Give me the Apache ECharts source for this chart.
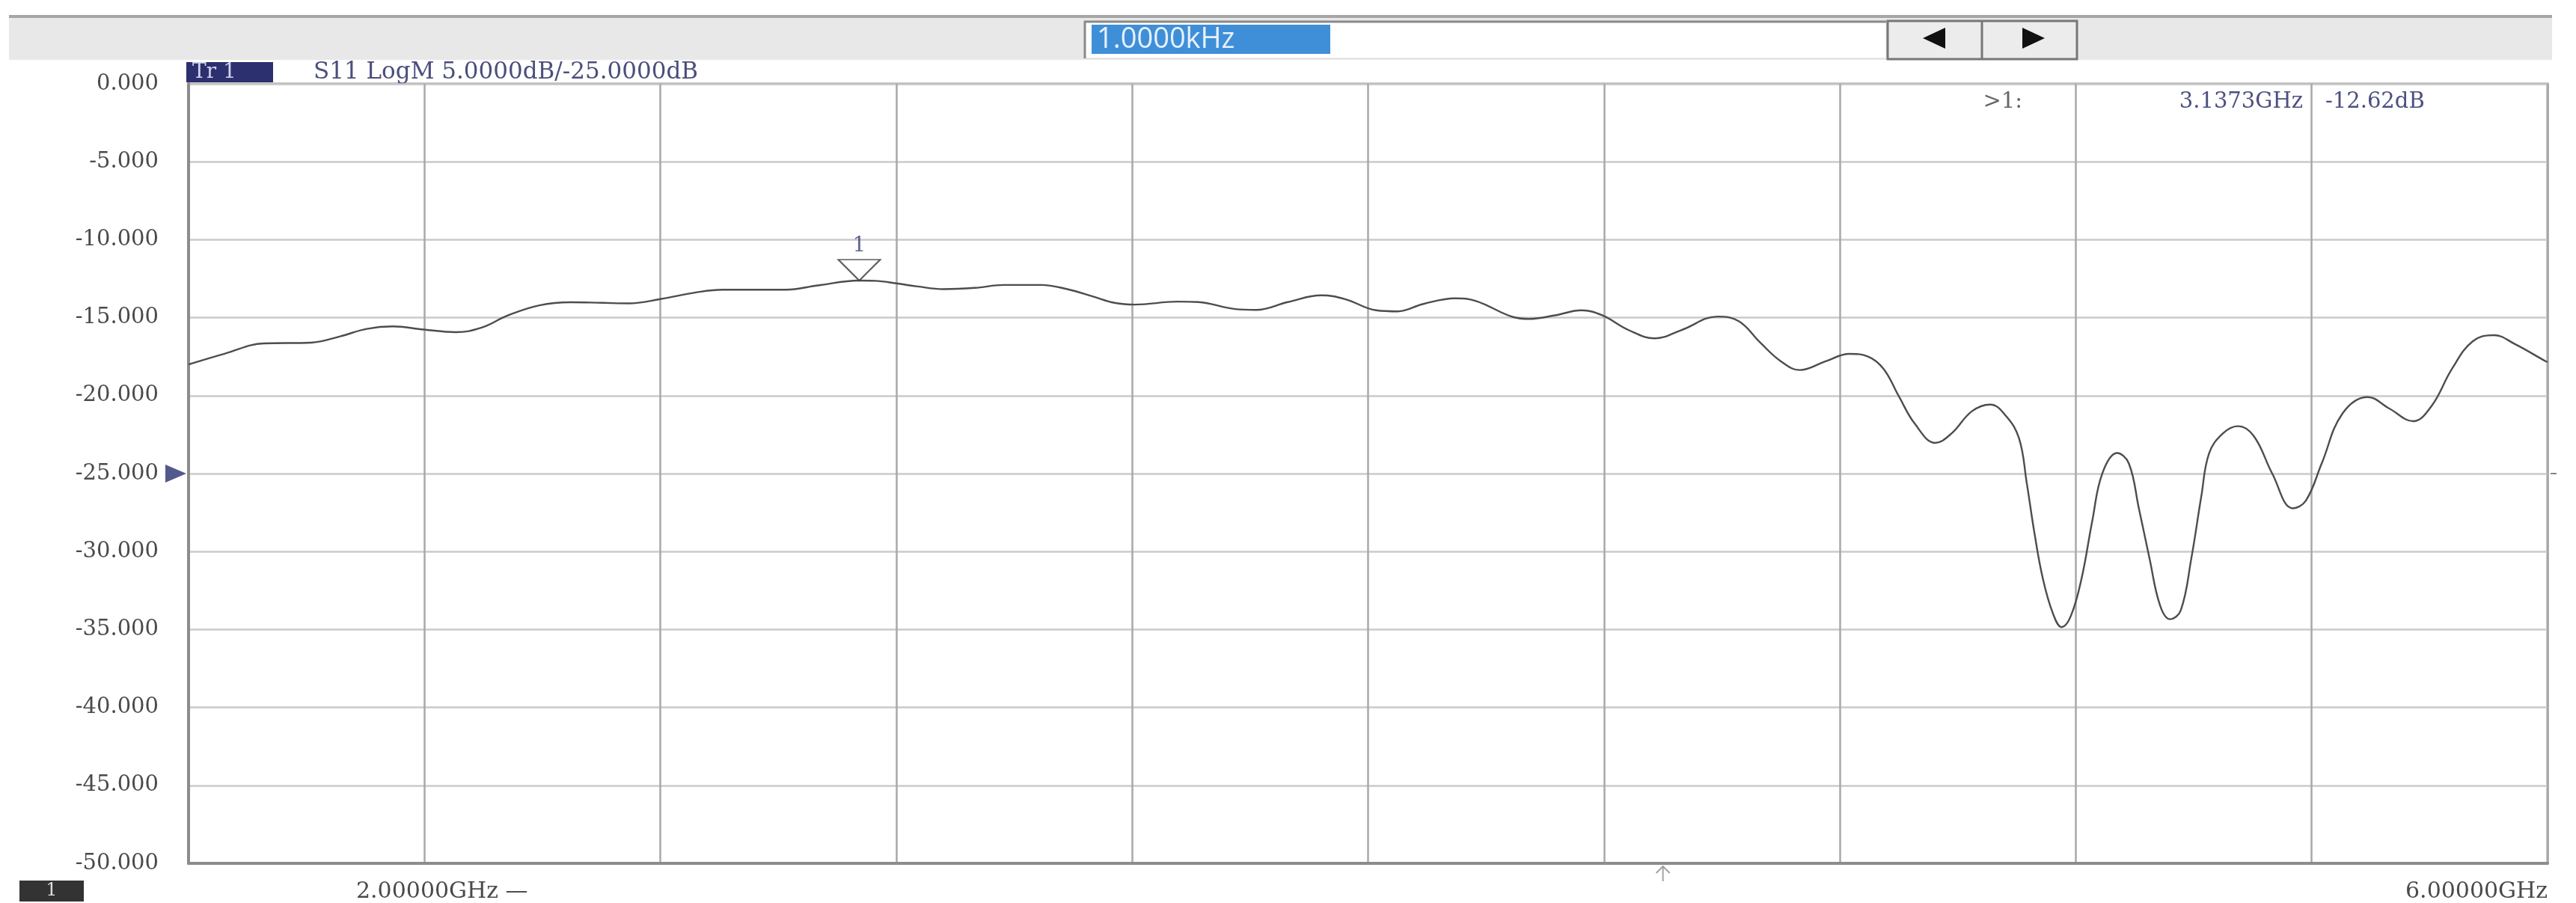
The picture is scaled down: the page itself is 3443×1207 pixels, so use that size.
<!DOCTYPE html>
<html>
<head>
<meta charset="utf-8">
<script src="https://cdn.jsdelivr.net/npm/echarts@6/dist/echarts.min.js"></script>
<style>
html,body{margin:0;padding:0;background:#fff;}
#chart{width:3443px;height:1207px;}
</style>
</head>
<body>
<div id="chart"></div>
<script>
// ---- data ----
const freqGHz = [2.000,2.062,2.128,2.208,2.257,2.302,2.346,2.399,2.453,2.497,2.542,2.595,2.648,2.702,2.746,2.800,2.862,2.906,3.013,3.067,3.137,3.164,3.200,3.236,3.280,3.333,3.383,3.445,3.490,3.534,3.570,3.605,3.677,3.712,3.775,3.810,3.864,3.921,3.961,4.014,4.050,4.094,4.148,4.183,4.246,4.273,4.317,4.362,4.397,4.442,4.486,4.531,4.593,4.629,4.665,4.700,4.732,4.776,4.816,4.847,4.874,4.900,4.927,4.962,4.989,5.024,5.055,5.082,5.104,5.117,5.130,5.144,5.161,5.176,5.192,5.210,5.228,5.245,5.270,5.290,5.307,5.325,5.343,5.360,5.378,5.396,5.413,5.426,5.449,5.475,5.502,5.533,5.568,5.590,5.617,5.652,5.695,5.732,5.772,5.803,5.838,5.873,5.909,5.944,5.997,6.000];
const s11dB = [-18.0,-17.3,-16.65,-16.6,-16.2,-15.72,-15.56,-15.76,-15.93,-15.64,-14.85,-14.21,-14.01,-14.05,-14.08,-13.81,-13.37,-13.21,-13.21,-12.93,-12.62,-12.64,-12.8,-13.0,-13.17,-13.09,-12.9,-12.9,-13.17,-13.65,-14.05,-14.16,-13.97,-14.0,-14.45,-14.5,-14.0,-13.57,-13.81,-14.53,-14.6,-14.12,-13.76,-13.93,-14.96,-15.08,-14.85,-14.53,-14.85,-15.8,-16.33,-15.8,-14.93,-15.24,-16.6,-17.8,-18.36,-17.8,-17.32,-17.48,-18.28,-20.04,-21.8,-23.03,-22.44,-21.0,-20.57,-21.32,-22.76,-25.63,-28.83,-31.7,-33.94,-34.85,-34.1,-31.7,-28.03,-24.99,-23.68,-24.35,-27.23,-30.43,-33.46,-34.34,-33.78,-30.43,-26.43,-23.71,-22.44,-21.96,-22.6,-24.99,-27.23,-26.75,-24.35,-21.16,-20.09,-20.84,-21.64,-20.68,-18.28,-16.52,-16.12,-16.68,-17.8,-17.85];
const yTickLabels = ['0.000','-5.000','-10.000','-15.000','-20.000','-25.000','-30.000','-35.000','-40.000','-45.000','-50.000'];
const markerFreq = 3.1373;
const markerDb = -12.62;
const markerText = ['>1:', '3.1373GHz', '-12.62dB'];
const refLevelDb = -25;
const centerFreq = 4.5;
const traceTitle = 'Tr 1';
const traceInfo = 'S11 LogM 5.0000dB/-25.0000dB';
const inputText = '1.0000kHz';
const startLabel = '2.00000GHz \u2014';
const stopLabel = '6.00000GHz';
const channelLabel = '1';

const serif = 'DejaVu Serif';
const chart = echarts.init(document.getElementById('chart'));

const lineData = freqGHz.map((f, i) => [f, s11dB[i]]);

const option = {
  backgroundColor: '#ffffff',
  animation: false,
  grid: {left: 252, right: 38, top: 112, bottom: 53, show: true, borderColor: '#9a9a9a', borderWidth: 3, backgroundColor: '#fff'},
  xAxis: {
    type: 'value', min: 2, max: 6, interval: 0.4,
    axisLabel: {show: false}, axisTick: {show: false},
    axisLine: {show: true, onZero: false, lineStyle: {color: '#8c8c8c', width: 4}},
    splitLine: {show: true, lineStyle: {color: '#a8a8a8', width: 2.5}}
  },
  yAxis: {
    type: 'value', min: -50, max: 0, interval: 5,
    axisLabel: {
      formatter: v => yTickLabels[Math.round(-v / 5)],
      fontFamily: serif, fontSize: 29, color: '#4a4a4a', margin: 40
    },
    axisTick: {show: false},
    axisLine: {show: true, onZero: false, lineStyle: {color: '#8c8c8c', width: 4}},
    splitLine: {show: true, lineStyle: {color: '#cacaca', width: 2.5}}
  },
  series: [
    {
      type: 'line', data: lineData, showSymbol: false, smooth: 0.4,
      lineStyle: {color: '#4d4d4d', width: 2.4}, z: 3
    },
    {
      type: 'scatter', data: [[markerFreq, markerDb]], clip: false, z: 5,
      symbol: 'path://M0,0 L2,0 L1,1 Z', symbolKeepAspect: false,
      symbolSize: [56, 28], symbolOffset: [0, -14],
      itemStyle: {color: '#ffffff', borderColor: '#333', borderWidth: 2},
      label: {show: true, position: 'top', distance: 4, formatter: '1', fontFamily: serif, fontSize: 28, color: '#3a3f7a'}
    },
    {
      type: 'scatter', data: [[2, refLevelDb]], clip: false, z: 5,
      symbol: 'path://M0,0 L1,0.5 L0,1 Z', symbolKeepAspect: false,
      symbolSize: [28, 24], symbolOffset: [-17, 0],
      itemStyle: {color: '#2a2e6e'}
    },
    {
      type: 'scatter', data: [[6, refLevelDb]], clip: false, z: 5,
      symbol: 'rect', symbolSize: [8, 2], symbolOffset: [8, 0],
      itemStyle: {color: '#666'}
    },
    {
      type: 'scatter', data: [[centerFreq, -50]], clip: false, z: 5,
      symbol: 'path://M0,9 L7,0 L14,9 M7,0 L7,20', symbolKeepAspect: false,
      symbolSize: [18, 20], symbolOffset: [0, 14],
      itemStyle: {color: 'none', borderColor: '#888', borderWidth: 2}
    }
  ],
  graphic: [
    // top tool bar
    {type: 'rect', shape: {x: 12, y: 22, width: 3399, height: 58}, style: {fill: '#e8e8e8'}},
    {type: 'rect', shape: {x: 12, y: 20, width: 3399, height: 4}, style: {fill: '#a6a6a6'}},
    {type: 'rect', shape: {x: 1449, y: 28, width: 1072, height: 50}, style: {fill: '#ffffff', stroke: '#d8d8d8', lineWidth: 1}},
    {type: 'line', shape: {x1: 1449, y1: 29, x2: 2521, y2: 29}, style: {stroke: '#8a8a8a', lineWidth: 3}},
    {type: 'line', shape: {x1: 1450, y1: 28, x2: 1450, y2: 78}, style: {stroke: '#8a8a8a', lineWidth: 3}},
    {type: 'rect', shape: {x: 1459, y: 33, width: 319, height: 39}, style: {fill: '#3f8fd8'}},
    {type: 'text', x: 1466, y: 53, style: {text: inputText, fill: '#e6f1fb', font: '38px "Open Sans"', verticalAlign: 'middle'}},
    {type: 'rect', shape: {x: 2523, y: 28, width: 253, height: 51}, style: {fill: '#ececec', stroke: '#777', lineWidth: 3}},
    {type: 'line', shape: {x1: 2649, y1: 29, x2: 2649, y2: 78}, style: {stroke: '#777', lineWidth: 3}},
    {type: 'polygon', shape: {points: [[2570, 51], [2600, 37], [2600, 65]]}, style: {fill: '#111'}},
    {type: 'polygon', shape: {points: [[2703, 37], [2733, 51], [2703, 65]]}, style: {fill: '#111'}},
    // trace header
    {type: 'rect', shape: {x: 249, y: 83, width: 116, height: 27}, style: {fill: '#2c306e'}},
    {type: 'text', x: 257, y: 97, style: {text: traceTitle, fill: '#cfd2ee', font: '28px "' + serif + '"', verticalAlign: 'middle'}},
    {type: 'text', x: 419, y: 97, style: {text: traceInfo, fill: '#4b4f7c', font: '31px "' + serif + '"', verticalAlign: 'middle'}},
    // marker readout
    {type: 'text', x: 2703, y: 136, style: {text: markerText[0], fill: '#666', font: '29px "' + serif + '"', align: 'right', verticalAlign: 'middle'}},
    {type: 'text', x: 3078, y: 136, style: {text: markerText[1], fill: '#4c5080', font: '29px "' + serif + '"', align: 'right', verticalAlign: 'middle'}},
    {type: 'text', x: 3108, y: 136, style: {text: markerText[2], fill: '#4c5080', font: '29px "' + serif + '"', verticalAlign: 'middle'}},
    // footer
    {type: 'rect', shape: {x: 26, y: 1177, width: 86, height: 28}, style: {fill: '#333'}},
    {type: 'text', x: 69, y: 1191, style: {text: channelLabel, fill: '#ddd', font: '24px "' + serif + '"', align: 'center', verticalAlign: 'middle'}},
    {type: 'text', x: 476, y: 1192, style: {text: startLabel, fill: '#4a4a4a', font: '30px "' + serif + '"', verticalAlign: 'middle'}},
    {type: 'text', x: 3405, y: 1192, style: {text: stopLabel, fill: '#4a4a4a', font: '30px "' + serif + '"', align: 'right', verticalAlign: 'middle'}}
  ]
};
chart.setOption(option);
</script>
</body>
</html>
